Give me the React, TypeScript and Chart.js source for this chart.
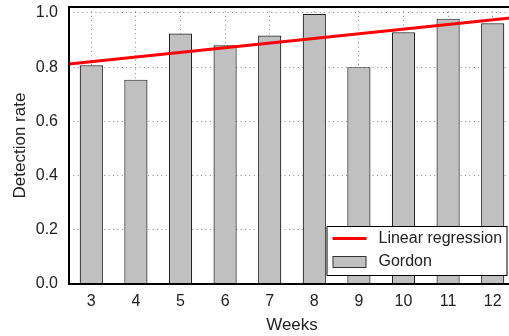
import React, { useEffect, useRef } from "react";
import { Chart, registerables } from "chart.js";

Chart.register(...registerables);

const weeks = [3, 4, 5, 6, 7, 8, 9, 10, 11, 12];
const gordon = [0.807, 0.754, 0.924, 0.881, 0.917, 0.996, 0.8, 0.929, 0.979, 0.962];
const regressionX = [2.5, 12.5];
const regressionY = [0.812, 0.983];
const yTicks = [0, 0.2, 0.4, 0.6, 0.8, 1.0];

const FONT = "'Liberation Sans', Arial, sans-serif";

const framePlugin = {
  id: "frame",
  afterDraw(chart: any) {
    const { ctx, chartArea } = chart;
    ctx.save();
    ctx.strokeStyle = "#000";
    ctx.lineWidth = 2;
    ctx.strokeRect(chartArea.left, chartArea.top, chartArea.right - chartArea.left, chartArea.bottom - chartArea.top);
    ctx.restore();
  },
};

const legendPlugin = {
  id: "boxLegend",
  afterDraw(chart: any) {
    const { ctx, chartArea } = chart;
    const ds = chart.data.datasets;
    const right = chartArea.right - 7.5;
    const bottom = chartArea.bottom - 8;
    const left = right - 181;
    const top = bottom - 50;
    ctx.save();
    ctx.fillStyle = "#fff";
    ctx.fillRect(left, top, right - left, bottom - top);
    ctx.strokeStyle = "#000";
    ctx.lineWidth = 1;
    ctx.strokeRect(left + 0.5, top + 0.5, right - left - 1, bottom - top - 1);
    const lineDs = ds[0];
    const barDs = ds[1];
    ctx.strokeStyle = lineDs.borderColor;
    ctx.lineWidth = 3;
    ctx.beginPath();
    ctx.moveTo(left + 6, top + 12.5);
    ctx.lineTo(left + 40, top + 12.5);
    ctx.stroke();
    ctx.fillStyle = barDs.backgroundColor;
    ctx.fillRect(left + 6.5, top + 30.5, 33, 11);
    ctx.strokeStyle = "#333";
    ctx.lineWidth = 1;
    ctx.strokeRect(left + 6.5, top + 30.5, 33, 11);
    ctx.fillStyle = "#222";
    ctx.font = `16px ${FONT}`;
    ctx.textBaseline = "middle";
    ctx.textAlign = "left";
    ctx.fillText(lineDs.label, left + 52, top + 13);
    ctx.fillText(barDs.label, left + 52, top + 36);
    ctx.restore();
  },
};

export default function App() {
  const ref = useRef<HTMLCanvasElement>(null);
  useEffect(() => {
    if (!ref.current) return;
    const chart = new Chart(ref.current, {
      type: "bar",
      data: {
        datasets: [
          {
            type: "line",
            label: "Linear regression",
            data: regressionX.map((x, i) => ({ x, y: regressionY[i] })),
            borderColor: "#ff0000",
            backgroundColor: "#ff0000",
            borderWidth: 3,
            pointRadius: 0,
            order: 0,
          } as any,
          {
            type: "bar",
            label: "Gordon",
            data: weeks.map((w, i) => ({ x: w, y: gordon[i] })),
            backgroundColor: "#c0c0c0",
            borderColor: "#222",
            borderWidth: 1.2,
            barPercentage: 0.52,
            categoryPercentage: 1,
            grouped: false,
            order: 1,
          } as any,
        ],
      },
      options: {
        responsive: false,
        animation: false,
        layout: { padding: { top: 7, right: 0, left: 0, bottom: 0 } },
        plugins: { legend: { display: false }, tooltip: { enabled: false } },
        scales: {
          x: {
            type: "linear",
            offset: false,
            min: 2.5,
            max: 12.5,
            afterBuildTicks: (axis: any) => {
              axis.ticks = weeks.map((v) => ({ value: v }));
            },
            afterFit: (axis: any) => {
              axis.height = 52;
              axis.paddingLeft = 0;
              axis.paddingRight = 0;
            },
            grid: { offset: false, color: "#888", lineWidth: 1, drawTicks: false, tickLength: 0 },
            border: { display: false, dash: [1, 3.4] } as any,
            ticks: { color: "#222", font: { family: FONT, size: 16 }, padding: 8.4, callback: (v: any) => String(v) },
            title: { display: true, text: "Weeks", color: "#222", font: { family: FONT, size: 17 }, padding: { top: 0, bottom: 0 } },
          },
          y: {
            min: 0,
            max: 1.022,
            afterBuildTicks: (axis: any) => {
              axis.ticks = yTicks.map((v) => ({ value: v }));
            },
            afterFit: (axis: any) => {
              axis.width = 69;
              axis.paddingTop = 0;
              axis.paddingBottom = 0;
            },
            grid: { color: "#888", lineWidth: 1, drawTicks: false, tickLength: 0 },
            border: { display: false, dash: [1, 3.4] } as any,
            ticks: {
              color: "#222",
              font: { family: FONT, size: 16 },
              padding: 11,
              callback: (v: any) => Number(v).toFixed(1),
            },
            title: { display: true, text: "Detection rate", color: "#222", font: { family: FONT, size: 17 }, padding: { top: 9.8, bottom: 0 } },
          },
        },
      } as any,
      plugins: [framePlugin, legendPlugin],
    });
    return () => chart.destroy();
  }, []);
  return (
    <div style={{ position: "fixed", left: 0, top: 0, width: 509, height: 336, overflow: "hidden", background: "#fff" }}>
      <canvas ref={ref} width={515} height={336} style={{ width: 515, height: 336, display: "block" }} />
    </div>
  );
}
